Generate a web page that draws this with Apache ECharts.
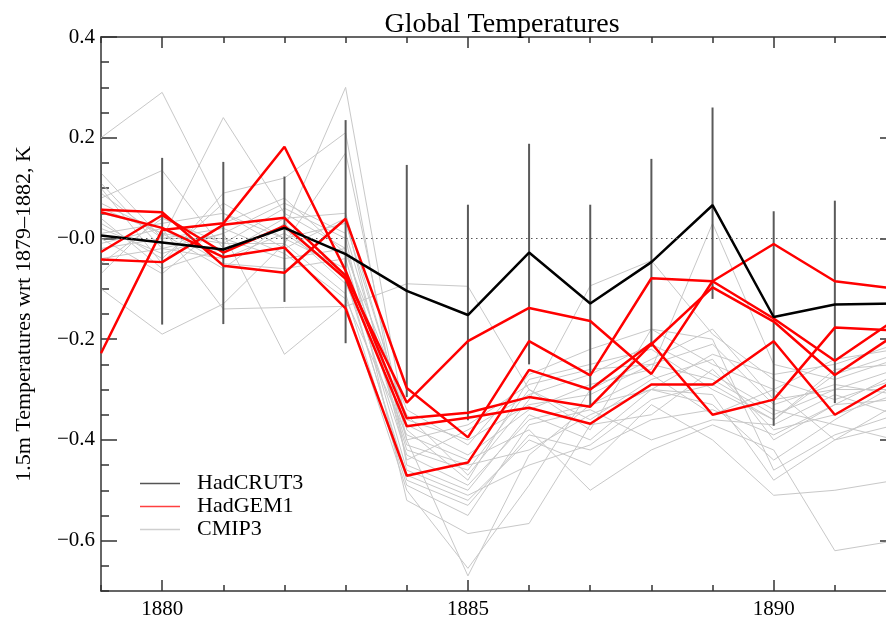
<!DOCTYPE html>
<html><head><meta charset="utf-8">
<script src="https://cdn.jsdelivr.net/npm/echarts@6/dist/echarts.min.js"></script>
<style>html,body{margin:0;padding:0;overflow:hidden;background:#fff}#c{width:900px;height:620px}</style>
</head><body><div id="c"></div><script>
// ---------- data ----------
var years = [1879,1880,1881,1882,1883,1884,1885,1886,1887,1888,1889,1890,1891,1892];

var hadcrut3     = [0.006,-0.008,-0.022,0.021,-0.031,-0.104,-0.152,-0.028,-0.129,-0.047,0.066,-0.156,-0.131,-0.129];
var hadcrut3Low  = [-0.160,-0.171,-0.170,-0.126,-0.208,-0.315,-0.361,-0.250,-0.335,-0.215,-0.120,-0.372,-0.327,-0.330];
var hadcrut3High = [0.170,0.160,0.152,0.123,0.235,0.146,0.067,0.188,0.067,0.158,0.260,0.054,0.075,0.070];

var hadgem1_1 = [0.057,0.052,-0.054,-0.068,0.039,-0.297,-0.395,-0.204,-0.272,-0.079,-0.085,-0.011,-0.085,-0.100];
var hadgem1_2 = [0.052,0.021,-0.037,-0.018,-0.139,-0.471,-0.445,-0.261,-0.300,-0.208,-0.350,-0.320,-0.177,-0.183];
var hadgem1_3 = [-0.042,-0.047,0.027,0.041,-0.074,-0.326,-0.204,-0.138,-0.164,-0.269,-0.085,-0.159,-0.243,-0.160];
var hadgem1_4 = [-0.228,0.017,0.030,0.182,-0.064,-0.357,-0.346,-0.315,-0.334,-0.210,-0.097,-0.165,-0.271,-0.190];
var hadgem1_5 = [-0.027,0.046,-0.028,0.025,-0.080,-0.373,-0.356,-0.336,-0.368,-0.290,-0.290,-0.204,-0.350,-0.280];

var cmip3_01 = [0.20,0.29,0.05,0.00,0.03,-0.36,-0.40,-0.33,-0.31,-0.25,-0.28,-0.35,-0.30,-0.30];
var cmip3_02 = [0.13,0.00,0.24,0.05,-0.02,-0.42,-0.46,-0.30,-0.36,-0.28,-0.24,-0.40,-0.33,-0.27];
var cmip3_03 = [0.08,0.135,-0.02,0.02,0.30,-0.38,-0.48,-0.28,-0.25,-0.22,-0.30,-0.36,-0.26,-0.25];
var cmip3_04 = [0.10,-0.05,0.09,0.12,0.21,-0.45,-0.50,-0.35,-0.40,-0.30,-0.33,-0.44,-0.36,-0.29];
var cmip3_05 = [-0.10,-0.19,-0.13,-0.01,0.17,-0.40,-0.67,-0.43,-0.33,-0.27,-0.35,-0.30,-0.40,-0.33];
var cmip3_06 = [0.05,0.02,-0.14,-0.137,-0.135,-0.09,-0.095,-0.30,-0.38,-0.18,-0.20,-0.46,-0.39,-0.35];
var cmip3_07 = [0.02,-0.03,0.01,-0.23,-0.13,-0.50,-0.655,-0.49,-0.30,-0.24,-0.18,-0.32,-0.30,-0.26];
var cmip3_08 = [-0.05,0.04,-0.01,0.06,0.00,-0.52,-0.586,-0.566,-0.37,-0.35,-0.26,-0.38,-0.35,-0.31];
var cmip3_09 = [0.00,-0.07,0.03,0.08,-0.03,-0.34,-0.41,-0.27,-0.22,-0.18,-0.25,-0.30,-0.24,-0.22];
var cmip3_10 = [0.06,0.01,-0.06,0.03,-0.08,-0.47,-0.52,-0.40,-0.45,-0.33,-0.40,-0.51,-0.50,-0.48];
var cmip3_11 = [-0.02,0.00,0.02,-0.03,-0.12,-0.39,-0.44,-0.38,-0.50,-0.42,-0.37,-0.42,-0.62,-0.60];
var cmip3_12 = [0.03,-0.04,0.07,0.00,-0.06,-0.43,-0.49,-0.36,-0.33,-0.30,-0.23,-0.27,-0.25,-0.21];
var cmip3_13 = [-0.07,0.05,-0.03,0.04,0.05,-0.37,-0.43,-0.34,-0.29,-0.26,0.03,-0.25,-0.28,-0.24];
var cmip3_14 = [0.09,0.00,0.00,-0.04,-0.02,-0.41,-0.45,-0.42,-0.35,-0.30,-0.31,-0.48,-0.40,-0.37];
var cmip3_15 = [-0.04,-0.02,-0.04,0.01,-0.07,-0.48,-0.53,-0.39,-0.42,-0.36,-0.34,-0.39,-0.33,-0.32];
var cmip3_16 = [0.01,0.03,0.05,-0.02,0.04,-0.44,-0.38,-0.31,-0.27,-0.21,-0.27,-0.34,-0.37,-0.40];
var cmip3_17 = [0.04,-0.06,-0.02,0.02,-0.09,-0.35,-0.47,-0.32,-0.094,-0.044,-0.19,-0.28,-0.32,-0.28];
var cmip3_18 = [-0.01,0.02,-0.05,-0.06,-0.04,-0.46,-0.51,-0.45,-0.41,-0.32,-0.29,-0.36,-0.27,-0.23];
var cmip3_19 = [0.11,-0.02,0.01,0.07,0.01,-0.40,-0.37,-0.29,-0.26,-0.25,-0.21,-0.33,-0.29,-0.31];
var cmip3_20 = [0.07,0.01,-0.01,-0.01,-0.11,-0.49,-0.55,-0.37,-0.34,-0.40,-0.36,-0.37,-0.31,-0.35];

var xMajorTicks = [1880,1885,1890];
var xMinorTicks = [1879,1880,1881,1882,1883,1884,1885,1886,1887,1888,1889,1890,1891,1892];
var yMajorTicks = [-0.6,-0.4,-0.2,0,0.2,0.4];
var yMinorTicks = [-0.7,-0.65,-0.6,-0.55,-0.5,-0.45,-0.4,-0.35,-0.3,-0.25,-0.2,-0.15,-0.1,-0.05,0,0.05,0.1,0.15,0.2,0.25,0.3,0.35,0.4];

// ---------- chart ----------
var FONT = '"Liberation Serif","Times New Roman",serif';
var AX = '#333';
function pairs(arr) { return years.map(function (y, i) { return [y, arr[i]]; }); }

var cmip3All = [cmip3_01,cmip3_02,cmip3_03,cmip3_04,cmip3_05,cmip3_06,cmip3_07,cmip3_08,cmip3_09,cmip3_10,
                cmip3_11,cmip3_12,cmip3_13,cmip3_14,cmip3_15,cmip3_16,cmip3_17,cmip3_18,cmip3_19,cmip3_20];
var hadgemAll = [hadgem1_1,hadgem1_2,hadgem1_3,hadgem1_4,hadgem1_5];

var series = [];
cmip3All.forEach(function (a) { series.push({
  name:'CMIP3', type:'line', data:pairs(a), showSymbol:false, silent:true, z:1,
  lineStyle:{color:'#c8c8c8', width:1}, itemStyle:{color:'#c8c8c8'}
}); });
series.push({
  name:'HadCRUT3 range', type:'custom', z:2, silent:true, clip:true,
  data: years.map(function (y,i) { return [y, hadcrut3Low[i], hadcrut3High[i]]; }),
  encode:{x:0, y:[1,2]},
  renderItem:function (params, api) {
    var p1 = api.coord([api.value(0), api.value(1)]);
    var p2 = api.coord([api.value(0), api.value(2)]);
    return {type:'line', shape:{x1:p1[0],y1:p1[1],x2:p2[0],y2:p2[1]}, style:{stroke:'#5a5a5a', lineWidth:2}};
  }
});
hadgemAll.forEach(function (a) { series.push({
  name:'HadGEM1', type:'line', data:pairs(a), showSymbol:false, silent:true, z:3,
  lineStyle:{color:'#ff0000', width:2.5}, itemStyle:{color:'#ff0000'}
}); });
series.push({
  name:'HadCRUT3', type:'line', data:pairs(hadcrut3), showSymbol:false, silent:true, z:4,
  lineStyle:{color:'#000', width:2.5}, itemStyle:{color:'#000'},
  markLine:{silent:true, symbol:'none', label:{show:false}, animation:false,
    lineStyle:{color:'#555', width:1.2, type:[1.5,3.5]}, data:[{yAxis:0}]}
});

var xBase = {type:'value', min:1879, max:1892, splitLine:{show:false}, gridIndex:0};
var yBase = {type:'value', min:-0.7, max:0.4, splitLine:{show:false}, gridIndex:0};
function yFmt(v) {
  var r = Math.round(v*10)/10;
  if (r === 0) return '\u22120.0';
  return (r < 0 ? '\u2212' : '') + Math.abs(r).toFixed(1);
}
function xFmt(v) { return String(Math.round(v)); }
function ext(base, more) { var o = {}; var k; for (k in base) o[k] = base[k]; for (k in more) o[k] = more[k]; return o; }

var chart = echarts.init(document.getElementById('c'), null, {renderer:'canvas'});
window.chart = chart;
chart.setOption({
  animation:false,
  backgroundColor:'#fff',
  title:{text:'Global Temperatures', left:497, textAlign:'center', top:6,
    textStyle:{fontFamily:FONT, fontSize:28, fontWeight:'normal', color:'#000'}},
  grid:{left:101, right:4, top:37, bottom:26, containLabel:false},
  legend:{
    data:[{name:'HadCRUT3', itemStyle:{color:'#555'}},
          {name:'HadGEM1', itemStyle:{color:'#ff4040'}},
          {name:'CMIP3', itemStyle:{color:'#cfcfcf'}}],
    orient:'vertical', left:140, top:472, padding:0, itemGap:0,
    icon:'rect', itemWidth:40, itemHeight:1.5, selectedMode:false,
    textStyle:{fontFamily:FONT, fontSize:22, color:'#000', lineHeight:23, padding:[0,0,0,12]}
  },
  xAxis:[
    ext(xBase, {position:'bottom',
      axisLine:{show:true, onZero:false, lineStyle:{color:AX, width:1.5}},
      axisTick:{show:true, inside:true, length:11, customValues:xMajorTicks, lineStyle:{color:AX, width:1.5}},
      axisLabel:{show:true, customValues:xMajorTicks, formatter:xFmt, margin:8, fontFamily:FONT, fontSize:21, color:'#000'}}),
    ext(xBase, {position:'bottom',
      axisLine:{show:false, onZero:false},
      axisTick:{show:true, inside:true, length:6, customValues:xMinorTicks, lineStyle:{color:AX, width:1.5}},
      axisLabel:{show:false}}),
    ext(xBase, {position:'top',
      axisLine:{show:true, onZero:false, lineStyle:{color:AX, width:1.5}},
      axisTick:{show:true, inside:true, length:11, customValues:xMajorTicks, lineStyle:{color:AX, width:1.5}},
      axisLabel:{show:false}}),
    ext(xBase, {position:'top',
      axisLine:{show:false, onZero:false},
      axisTick:{show:true, inside:true, length:6, customValues:xMinorTicks, lineStyle:{color:AX, width:1.5}},
      axisLabel:{show:false}})
  ],
  yAxis:[
    ext(yBase, {position:'left',
      name:'1.5m Temperatures wrt 1879\u20131882, K', nameLocation:'middle', nameGap:66, nameRotate:90,
      nameTextStyle:{fontFamily:FONT, fontSize:22, color:'#000'},
      axisLine:{show:true, onZero:false, lineStyle:{color:AX, width:1.5}},
      axisTick:{show:true, inside:true, length:16, customValues:yMajorTicks, lineStyle:{color:AX, width:1.5}},
      axisLabel:{show:true, customValues:yMajorTicks, margin:6, formatter:yFmt, fontFamily:FONT, fontSize:21, color:'#000'}}),
    ext(yBase, {position:'left',
      axisLine:{show:false, onZero:false},
      axisTick:{show:true, inside:true, length:8, customValues:yMinorTicks, lineStyle:{color:AX, width:1.5}},
      axisLabel:{show:false}}),
    ext(yBase, {position:'right',
      axisLine:{show:true, onZero:false, lineStyle:{color:AX, width:1.5}},
      axisTick:{show:true, inside:true, length:16, customValues:yMajorTicks, lineStyle:{color:AX, width:1.5}},
      axisLabel:{show:false}}),
    ext(yBase, {position:'right',
      axisLine:{show:false, onZero:false},
      axisTick:{show:true, inside:true, length:8, customValues:yMinorTicks, lineStyle:{color:AX, width:1.5}},
      axisLabel:{show:false}})
  ],
  series: series
});
</script></body></html>
